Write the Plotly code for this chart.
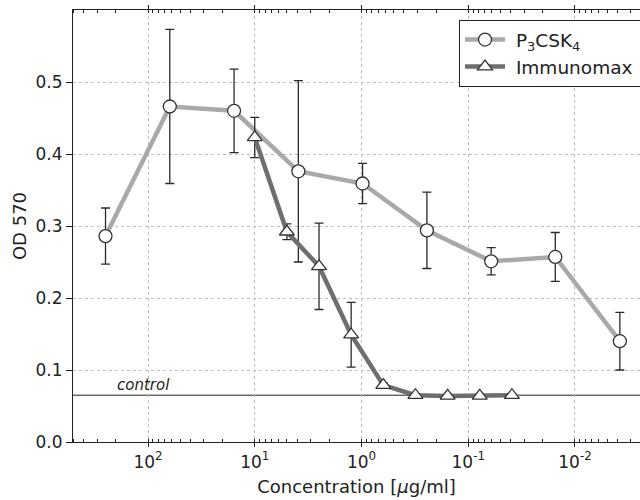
import numpy as np
import plotly.graph_objects as go

# ---- data ----
p3_conc = [250, 62.5, 15.625, 3.906, 0.977, 0.244, 0.061, 0.0153, 0.0038]
p3_od = [0.286, 0.466, 0.460, 0.376, 0.359, 0.294, 0.251, 0.257, 0.140]
p3_err = [0.039, 0.107, 0.058, 0.126, 0.028, 0.053, 0.019, 0.034, 0.040]

im_conc = [10, 5, 2.5, 1.25, 0.625, 0.3125, 0.156, 0.078, 0.039]
im_od = [0.423, 0.292, 0.244, 0.149, 0.079, 0.065, 0.064, 0.064, 0.065]
im_err = [0.028, 0.011, 0.060, 0.045, 0.003, 0.002, 0.002, 0.002, 0.002]

control_od = 0.065
y_ticks = [0.0, 0.1, 0.2, 0.3, 0.4, 0.5]
x_tick_vals = [100, 10, 1, 0.1, 0.01]
x_tick_text = ["10<sup>2</sup>", "10<sup>1</sup>", "10<sup>0</sup>", "10<sup>-1</sup>", "10<sup>-2</sup>"]
x_range_log = [2.7026, -2.609]
y_range = [0, 0.6]

FONT = "DejaVu Sans"
P3_COLOR = "#a9a9a9"
IM_COLOR = "#6e6e6e"
ERR_COLOR = "#2a2a2a"

fig = go.Figure()

fig.add_trace(go.Scatter(
    x=p3_conc, y=p3_od, mode="lines+markers",
    name="&nbsp;P<sub>3</sub>CSK<sub>4</sub>",
    line=dict(color=P3_COLOR, width=4.5),
    marker=dict(symbol="circle", size=13, color="white",
                line=dict(color="#333333", width=1.3)),
    error_y=dict(type="data", array=p3_err, color=ERR_COLOR,
                 thickness=1.3, width=4.5),
))
fig.add_trace(go.Scatter(
    x=im_conc, y=im_od, mode="lines+markers",
    name="&nbsp;Immunomax&nbsp;&nbsp;&nbsp;",
    line=dict(color=IM_COLOR, width=4.5),
    marker=dict(symbol="triangle-up", size=13, color="white",
                line=dict(color="#333333", width=1.3)),
    error_y=dict(type="data", array=im_err, color=ERR_COLOR,
                 thickness=1.3, width=4.5),
))

# control line
fig.add_shape(type="line", xref="paper", x0=0, x1=1.05, yref="y",
              y0=control_od, y1=control_od,
              line=dict(color="#222222", width=1), layer="below")
fig.add_annotation(text="<i>control</i>", xref="paper", x=0.074, xanchor="left",
                   yref="y", y=control_od, yanchor="bottom", yshift=-1,
                   showarrow=False, font=dict(family=FONT, size=15, color="#222222"))

# legend shadow
fig.add_shape(type="rect", xref="paper", yref="paper",
              x0=(462 - 73) / 567, x1=1.1, y0=(442 - 81) / 432, y1=(442 - 22) / 432,
              fillcolor="#555555", line=dict(width=0), layer="above")

fig.update_layout(
    width=640, height=500,
    margin=dict(l=73, r=0, t=10, b=58, autoexpand=False),
    paper_bgcolor="white", plot_bgcolor="white",
    font=dict(family=FONT, size=17, color="#222222"),
    showlegend=True,
    legend=dict(x=(459 - 73) / 567, xanchor="left", y=(442 - 20) / 432, yanchor="top",
                bgcolor="white", bordercolor="#222222", borderwidth=1,
                font=dict(family=FONT, size=18.5, color="#222222"),
                tracegroupgap=0, itemwidth=40),
)

fig.update_xaxes(
    type="log", range=x_range_log,
    showline=True, linecolor="#222222", linewidth=1.2, mirror="ticks",
    ticks="outside", ticklen=4, tickcolor="#222222",
    tickvals=x_tick_vals, ticktext=x_tick_text,
    showgrid=True, gridcolor="#bbbbbb", griddash="dot", gridwidth=1,
    minor=dict(ticks="inside", ticklen=3, tickcolor="#222222", showgrid=False, dtick="D1"),
    zeroline=False,
    title=dict(text="Concentration [<i>μ</i>g/ml]", font=dict(family=FONT, size=18), standoff=9),
    tickfont=dict(family=FONT, size=17),
)
fig.update_yaxes(
    range=y_range, tickvals=y_ticks, ticktext=[f"{v:.1f}" for v in y_ticks],
    showline=True, linecolor="#222222", linewidth=1.2, mirror=False,
    ticks="outside", ticklen=6, tickcolor="#222222",
    showgrid=True, gridcolor="#bbbbbb", griddash="dot", gridwidth=1,
    zeroline=False,
    title=dict(text="OD 570", font=dict(family=FONT, size=18), standoff=4),
    tickfont=dict(family=FONT, size=17),
)

fig.write_html("out.html")
